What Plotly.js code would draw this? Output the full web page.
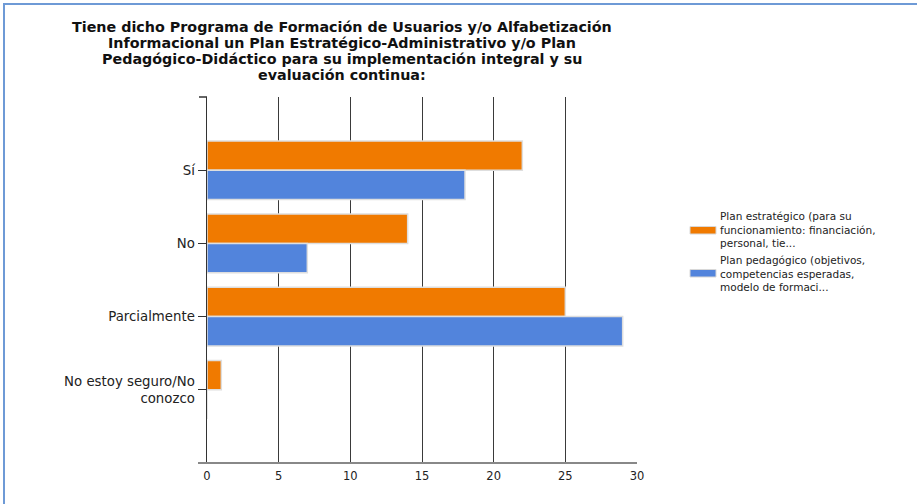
<!DOCTYPE html>
<html><head><meta charset="utf-8">
<script src="https://cdn.plot.ly/plotly-3.0.1.min.js"></script>
<style>
html,body{margin:0;padding:0;background:#fff;overflow:hidden;}
#frame{position:absolute;left:0;top:0;width:917px;height:504px;}
#border{position:absolute;left:3px;top:3px;width:930px;height:520px;border-left:2px solid #6e9ad6;border-top:2px solid #6e9ad6;pointer-events:none;}
#chart{position:absolute;left:0;top:0;width:917px;height:504px;}
</style></head>
<body>
<div id="frame"><div id="chart"></div><div id="border"></div></div>
<script>
const titleLines = [
  "Tiene dicho Programa de Formación de Usuarios y/o Alfabetización",
  "Informacional un Plan Estratégico-Administrativo y/o Plan",
  "Pedagógico-Didáctico para su implementación integral y su",
  "evaluación continua:"
];
const categories = ["Sí", "No", "Parcialmente", "No estoy seguro/No<br>conozco"];
const seriesNames = [
  "Plan estratégico (para su<br>funcionamiento: financiación,<br>personal, tie...",
  "Plan pedagógico (objetivos,<br>competencias esperadas,<br>modelo de formaci..."
];
const seriesColors = ["#f07a00", "#5284dc"];
const planEstrategico = [22, 14, 25, 1];
const planPedagogico = [18, 7, 29, 0];
const xTicks = [0, 5, 10, 15, 20, 25, 30];

const FONT = "DejaVu Sans, Verdana, sans-serif";
const PL = 207, PR = 637, PT = 97, PB = 463;
const pw = PR - PL, ph = PB - PT;
const px2x = v => (v - PL) / pw;
const py2y = v => (PB - v) / ph;

const traces = [
  {type:"bar", orientation:"h", name:seriesNames[0], y:categories, x:planEstrategico,
   marker:{color:seriesColors[0], line:{color:"#dedede", width:1.5}}, hoverinfo:"x", showlegend:false},
  {type:"bar", orientation:"h", name:seriesNames[1], y:categories, x:planPedagogico,
   marker:{color:seriesColors[1], line:{color:"#dedede", width:1.5}}, hoverinfo:"x", showlegend:false}
];

const shapes = [
  {type:"line", xref:"paper", yref:"paper", x0:-9/pw, x1:1, y0:0, y1:0, line:{color:"#888", width:2}},
  {type:"line", xref:"paper", yref:"paper", x0:-8/pw, x1:0, y0:1, y1:1, line:{color:"#333", width:1.5}}
];
const annotations = [];

// title, one line per annotation for the tight line spacing of the reference
const titleY = [27, 43, 59, 74.5];
titleLines.forEach((ln, j) => {
  annotations.push({xref:"paper", yref:"paper", x:px2x(342), y:py2y(titleY[j]),
    xanchor:"center", yanchor:"middle", text:"<b>" + ln + "</b>", showarrow:false,
    font:{family:FONT, size:14.3, color:"#111"}});
});

// legend (manual)
const legendCenter = [230, 273];
seriesNames.forEach((nm, i) => {
  const cy = legendCenter[i];
  shapes.push({type:"rect", xref:"paper", yref:"paper", x0:px2x(690), x1:px2x(716),
    y0:py2y(cy + 4), y1:py2y(cy - 3.5), fillcolor:seriesColors[i], line:{color:"#d8d8d8", width:1}});
  annotations.push({xref:"paper", yref:"paper", x:px2x(719), y:py2y(cy),
    xanchor:"left", yanchor:"middle", align:"left", text:nm, showarrow:false, borderpad:0,
    font:{family:FONT, size:10.5, color:"#222"}});
});

const layout = {
  width:917, height:504,
  margin:{l:PL, r:917 - PR, t:PT, b:504 - PB},
  paper_bgcolor:"#fff", plot_bgcolor:"#fff",
  font:{family:FONT, size:12, color:"#222"},
  barmode:"group", bargap:0.2, bargroupgap:0,
  xaxis:{range:[0,30], tickvals:xTicks, showgrid:true, gridcolor:"#3a3a3a", gridwidth:1,
         zeroline:false, showline:false, ticks:"", tickfont:{size:11.5, color:"#222"},
         ticklabelstandoff:4, fixedrange:true},
  yaxis:{type:"category", range:[4, -1], showgrid:false, zeroline:false,
         showline:true, linecolor:"#333", linewidth:1.5, ticks:"outside", ticklen:8, tickcolor:"#333",
         tickfont:{size:13.3, color:"#222"}, fixedrange:true},
  shapes:shapes, annotations:annotations,
  showlegend:false
};
Plotly.newPlot("chart", traces, layout, {displayModeBar:false, staticPlot:true});
</script>
</body></html>
